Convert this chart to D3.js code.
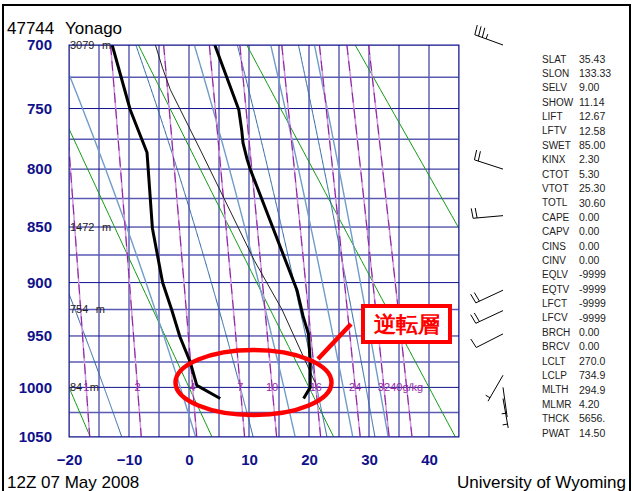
<!DOCTYPE html>
<html>
<head>
<meta charset="utf-8">
<script src="https://cdn.jsdelivr.net/npm/d3@7"></script>
<style>
  body { margin: 0; background: #fff; }
  svg text { font-family: "Liberation Sans", Arial, Helvetica, sans-serif; }
</style>
</head>
<body>
<div id="mount"></div>
<script>
'use strict';

// sounding (hPa / degC)
const tempPres = [1011, 1000, 974, 948, 931, 907, 800, 792, 778, 768, 751, 700];
const tempVals = [19.1, 20.2, 20.2, 19.9, 19.0, 18.0, 10.2, 9.7, 9.0, 8.8, 8.3, 4.3];
const dewPres = [1011, 998, 975, 951, 925, 900, 851, 800, 786, 751, 700];
const dewVals = [5.2, 1.3, 0.2, -1.5, -2.9, -4.4, -6.1, -6.8, -7.0, -9.8, -12.8];
const parcelPres = [995, 925, 880, 784, 735, 718, 700];
const parcelVals = [21.0, 15.5, 10.9, 1.9, -3.1, -4.4, -5.6];

// winds (deg, kt)
const barbPres = [700, 800, 840, 907, 926, 948, 988, 1000, 1011];
const barbDir = [290, 288, 265, 245, 245, 243, 210, 172, 170];
const barbSpd = [35, 20, 20, 20, 20, 10, 5, 5, 5];

// heights of the standard levels (m)
const hgtPres = [700, 850, 925, 1000];
const hgtVals = ['3079', '1472', '754', '84'];

// background lines
const pressTicks = [700, 750, 800, 850, 900, 950, 1000, 1050];
const tempTicks = [-20, -10, 0, 10, 20, 30, 40];
const dryTheta = [-20, 0, 20, 40, 60];                       // degC
const moistAt1050 = [-11.2, 1.1, 10.7, 17.7, 23.0, 27.3, 31.0, 33.2];
const mixRatios = [1, 2, 4, 7, 10, 16, 24, 32, 40];          // g/kg
const mixLabels = ['1', '2', '4', '7', '10', '16', '24', '32', '40g/kg'];

// station indices
const statNames = ['SLAT', 'SLON', 'SELV', 'SHOW', 'LIFT', 'LFTV', 'SWET', 'KINX', 'CTOT',
  'VTOT', 'TOTL', 'CAPE', 'CAPV', 'CINS', 'CINV', 'EQLV', 'EQTV', 'LFCT', 'LFCV', 'BRCH',
  'BRCV', 'LCLT', 'LCLP', 'MLTH', 'MLMR', 'THCK', 'PWAT'];
const statVals = ['35.43', '133.33', '9.00', '11.14', '12.67', '12.58', '85.00', '2.30', '5.30',
  '25.30', '30.60', '0.00', '0.00', '0.00', '0.00', '-9999', '-9999', '-9999', '-9999', '0.00',
  '0.00', '270.0', '734.9', '294.9', '4.20', '5656.', '14.50'];

const W = 633, H = 491;
const svg = d3.select('#mount').append('svg')
    .attr('width', W)
    .attr('height', H);

// outer frame
svg.append('rect')
    .attr('x', 3).attr('y', 5).attr('width', 627).attr('height', 492)
    .attr('fill', 'none').attr('stroke', '#000').attr('stroke-width', 2);

// stuve diagram: y linear in p^0.286
const x = d3.scaleLinear().domain([-20, 45]).range([69, 459]);
const y = d3.scalePow().exponent(0.286).domain([700, 1050]).range([45, 437]);

svg.append('clipPath').attr('id', 'plot')
  .append('rect')
    .attr('x', 69).attr('y', 45).attr('width', 390).attr('height', 392);

const plot = svg.append('g').attr('clip-path', 'url(#plot)');
const navy = '#10108c';

// isotherms and isobars
plot.selectAll('.iso-t')
  .data(d3.range(-20, 46, 5))
  .join('line')
    .attr('x1', d => x(d)).attr('x2', d => x(d))
    .attr('y1', 45).attr('y2', 437)
    .attr('stroke', navy).attr('stroke-width', 1);

plot.selectAll('.iso-p')
  .data(d3.range(700, 1051, 25))
  .join('line')
    .attr('x1', 69).attr('x2', 459)
    .attr('y1', d => y(d)).attr('y2', d => y(d))
    .attr('stroke', d => d % 50 ? '#5a5ab4' : navy)
    .attr('stroke-width', d => d % 50 ? 1.5 : 1);

const pLevels = d3.range(700, 1051, 5);
const line = d3.line().x(d => x(d[1])).y(d => y(d[0]));

// dry adiabats
plot.selectAll('.dry')
  .data(dryTheta)
  .join('path')
    .attr('d', th => line(pLevels.map(p => [p, (th + 273.15) * Math.pow(p / 1000, 0.286) - 273.15])))
    .attr('fill', 'none').attr('stroke', '#129a12').attr('stroke-width', 1);

// saturation helpers
const es = t => 6.112 * Math.exp(17.67 * t / (t + 243.5));
function tFromMix(w, p) {
  const e = w * p / (622 + w);
  const l = Math.log(e / 6.112);
  return 243.5 * l / (17.67 - l);
}

// moist (pseudo) adiabats, stepped up from 1050 hPa
function moistPath(t0) {
  const Rd = 287.04, cp = 1005.7, Lv = 2.501e6, eps = 0.622;
  let T = t0 + 273.15;
  const pts = [[1050, t0]];
  for (let p = 1050; p > 700; p -= 1) {
    const e = es(T - 273.15);
    const rs = eps * e / (p - e);
    const dTdp = (Rd * T + Lv * rs) / (p * (cp + Lv * Lv * rs * eps / (Rd * T * T)));
    T -= dTdp;
    pts.push([p - 1, T - 273.15]);
  }
  return pts;
}

plot.selectAll('.moist')
  .data(moistAt1050)
  .join('path')
    .attr('d', t0 => line(moistPath(t0)))
    .attr('fill', 'none')
    .attr('stroke', (d, i) => i % 2 ? '#6f9cc8' : '#2a66a4')
    .attr('stroke-width', (d, i) => i % 2 ? 1.4 : 1);

// mixing ratio lines: pale line with darker dashes on top
const mixPath = w => line(pLevels.map(p => [p, tFromMix(w, p)]));
plot.selectAll('.mix0')
  .data(mixRatios)
  .join('path')
    .attr('d', mixPath)
    .attr('fill', 'none').attr('stroke', '#cf98dc').attr('stroke-width', 1.5);
plot.selectAll('.mix1')
  .data(mixRatios)
  .join('path')
    .attr('d', mixPath)
    .attr('fill', 'none').attr('stroke', '#8a1a9e').attr('stroke-width', 1)
    .attr('stroke-dasharray', '10,6');

svg.selectAll('.mixlab')
  .data(mixRatios)
  .join('text')
    .attr('x', w => x(tFromMix(w, 1000)))
    .attr('y', y(1000))
    .attr('dy', '0.35em')
    .attr('text-anchor', 'middle')
    .attr('font-size', 11)
    .attr('fill', '#9a2aa6')
    .text((w, i) => mixLabels[i]);

// plot border
svg.append('rect')
    .attr('x', 69).attr('y', 45).attr('width', 390).attr('height', 392)
    .attr('fill', 'none').attr('stroke', navy).attr('stroke-width', 1);

// heights: number, then the unit a little further right
const hgt = svg.append('g').attr('font-size', 11).attr('fill', '#222');
hgtPres.forEach((p, i) => {
  const num = hgt.append('text')
      .attr('x', 70).attr('y', y(p)).attr('dy', '0.35em')
      .text(hgtVals[i]);
  const wNum = num.node().getComputedTextLength();
  hgt.append('text')
      .attr('x', 70 + wNum + 7.5).attr('y', y(p)).attr('dy', '0.35em')
      .text('m');
});

// parcel, temperature, dewpoint
const parcel = parcelPres.map((p, i) => [p, parcelVals[i]]);
const temp = tempPres.map((p, i) => [p, tempVals[i]]);
const dew = dewPres.map((p, i) => [p, dewVals[i]]);

plot.append('path').attr('d', line(parcel))
    .attr('fill', 'none').attr('stroke', '#222').attr('stroke-width', 1);
plot.append('path').attr('d', line(temp))
    .attr('fill', 'none').attr('stroke', '#000').attr('stroke-width', 3)
    .attr('stroke-linejoin', 'round');
plot.append('path').attr('d', line(dew))
    .attr('fill', 'none').attr('stroke', '#000').attr('stroke-width', 3)
    .attr('stroke-linejoin', 'round');

// axes
const yAxis = svg.append('g')
    .attr('transform', 'translate(52,0)')
    .call(d3.axisLeft(y).tickValues(pressTicks).tickSize(0).tickPadding(0).tickFormat(d3.format('d')));
const xAxis = svg.append('g')
    .attr('transform', 'translate(0,454)')
    .call(d3.axisBottom(x).tickValues(tempTicks).tickSize(0).tickPadding(0));
[yAxis, xAxis].forEach(a => {
  a.select('.domain').remove();
  a.selectAll('text')
      .attr('fill', navy)
      .attr('font-size', 15)
      .attr('font-weight', 'bold')
      .attr('font-family', '"Liberation Sans", Arial, sans-serif');
});

// wind barbs
const barbX = 503, staff = 30;
const barbs = svg.append('g').attr('stroke', '#000').attr('stroke-width', 1).attr('fill', 'none');
barbPres.forEach((p, i) => {
  const a = barbDir[i] * Math.PI / 180;
  const ux = Math.sin(a), uy = -Math.cos(a);
  const fx = -uy, fy = ux;
  const x0 = barbX, y0 = y(p);
  const x1 = x0 + staff * ux, y1 = y0 + staff * uy;
  barbs.append('line').attr('x1', x0).attr('y1', y0).attr('x2', x1).attr('y2', y1);
  let s = barbSpd[i], k = 0;
  while (s >= 10) {
    const bx = x1 - k * 4 * ux, by = y1 - k * 4 * uy;
    barbs.append('line').attr('x1', bx).attr('y1', by)
        .attr('x2', bx + 10 * fx + 1 * ux).attr('y2', by + 10 * fy + 1 * uy);
    s -= 10; k++;
  }
  if (s >= 5) {
    if (k === 0) k = 1;
    const bx = x1 - k * 4 * ux, by = y1 - k * 4 * uy;
    barbs.append('line').attr('x1', bx).attr('y1', by)
        .attr('x2', bx + 5 * fx).attr('y2', by + 5 * fy);
  }
});

// station indices
const row = d3.scaleLinear().domain([0, statNames.length - 1]).range([59, 433]);
const stats = svg.append('g').attr('fill', '#222');
stats.selectAll('.sn')
  .data(statNames)
  .join('text')
    .attr('x', 542).attr('y', (d, i) => row(i)).attr('dy', '0.35em')
    .attr('font-size', 10)
    .text(d => d);
stats.selectAll('.sv')
  .data(statVals)
  .join('text')
    .attr('x', 579).attr('y', (d, i) => row(i)).attr('dy', '0.35em')
    .attr('font-size', 10.5)
    .text(d => d);

// titles
svg.append('text').attr('x', 7).attr('y', 33.5).attr('font-size', 17).text('47744');
svg.append('text').attr('x', 65).attr('y', 33.5).attr('font-size', 17).text('Yonago');
svg.append('text').attr('x', 7).attr('y', 488).attr('font-size', 17).text('12Z 07 May 2008');
svg.append('text').attr('x', 626).attr('y', 488).attr('font-size', 17)
    .attr('text-anchor', 'end').text('University of Wyoming');

// annotation: inversion layer
const red = '#ff0000';
svg.append('ellipse')
    .attr('cx', 253.5).attr('cy', 382.5).attr('rx', 78).attr('ry', 32.5)
    .attr('fill', 'none').attr('stroke', red).attr('stroke-width', 4.5);
svg.append('line')
    .attr('x1', 318).attr('y1', 359).attr('x2', 351).attr('y2', 324)
    .attr('stroke', red).attr('stroke-width', 4.5);
svg.append('rect')
    .attr('x', 363).attr('y', 306).attr('width', 87).attr('height', 36)
    .attr('fill', '#fff').attr('stroke', red).attr('stroke-width', 4);
svg.append('text')
    .attr('x', 406.5).attr('y', 324).attr('dy', '0.36em')
    .attr('text-anchor', 'middle')
    .attr('font-size', 22).attr('font-weight', 'bold')
    .attr('font-family', '"Noto Sans CJK JP", sans-serif')
    .attr('fill', red)
    .text('逆転層');
</script>
</body>
</html>
